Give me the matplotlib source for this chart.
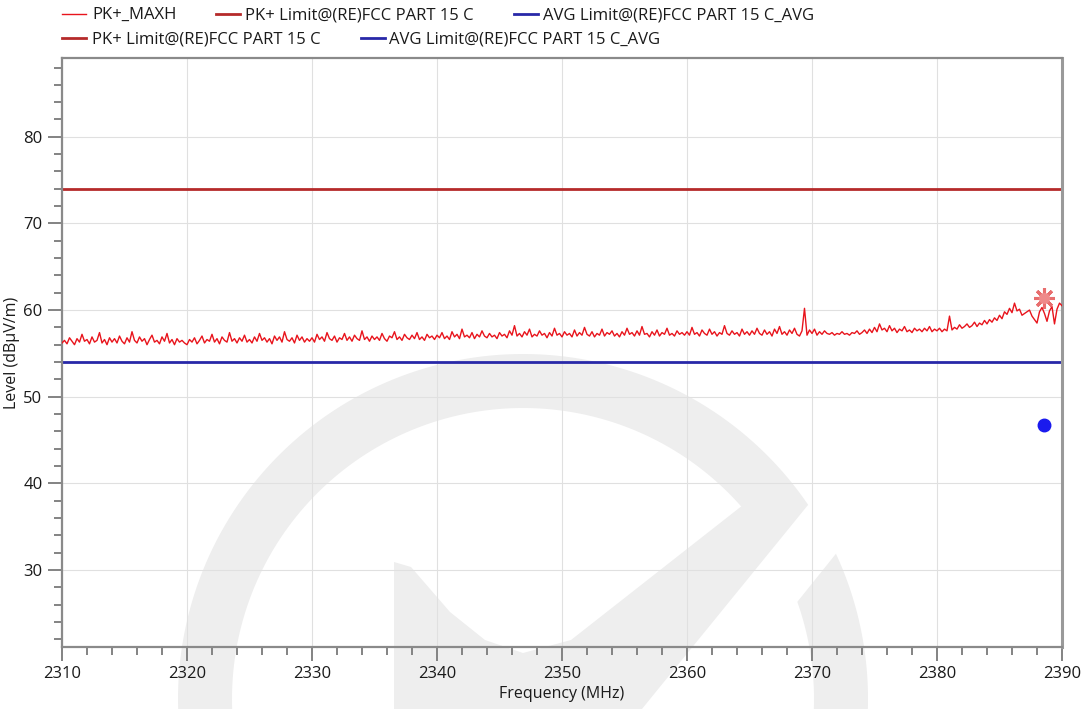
#!/usr/bin/env python3

import matplotlib
# render off-screen, no display in the sandbox
matplotlib.use('Agg')
import numpy as np
from matplotlib import pyplot as plt
from matplotlib.lines import Line2D
from matplotlib.patches import Polygon
from matplotlib.transforms import Affine2D
from matplotlib.ticker import MultipleLocator

# sweep settings
f_start = 2310.0
f_stop = 2390.0

# PK+_MAXH trace, one reading every 0.2 MHz
pk_maxh = [
    56.2, 56.5, 56.1, 56.8, 56.4, 56.0, 56.7, 56.3, 57.2, 56.4, 56.6, 56.1, 56.9, 56.3, 56.5, 57.4, 56.2, 56.6, 56.0, 56.8, 56.3, 56.7, 56.2, 57.0, 56.4,
    56.1, 56.8, 56.3, 57.5, 56.5, 56.2, 56.9, 56.4, 56.7, 56.0, 56.6, 57.1, 56.3, 56.5, 56.1, 56.9, 56.4, 57.3, 56.2, 56.6, 56.0, 56.7, 56.3, 56.5, 56.2,
    56.0, 56.6, 56.3, 56.8, 56.1, 56.5, 57.0, 56.2, 56.6, 56.4, 57.2, 56.3, 56.7, 56.1, 56.9, 56.5, 56.3, 57.4, 56.4, 56.7, 56.2, 56.8, 56.4, 57.1, 56.3,
    56.6, 56.2, 56.9, 56.4, 57.3, 56.5, 56.8, 56.3, 56.7, 56.1, 57.0, 56.5, 56.9, 56.3, 57.5, 56.6, 56.4, 56.8, 56.2, 57.1, 56.5, 56.9, 56.3, 56.7, 56.4,
    56.8, 56.3, 57.2, 56.6, 56.9, 56.4, 57.4, 56.7, 56.5, 57.0, 56.3, 56.8, 56.6, 57.3, 56.5, 56.9, 56.4, 57.1, 56.7, 56.5, 57.6, 56.6, 56.9, 56.4, 57.0,
    56.6, 56.9, 56.5, 57.3, 56.7, 56.4, 57.0, 56.8, 57.5, 56.6, 56.9, 56.5, 57.2, 56.8, 56.6, 57.1, 56.7, 57.4, 56.6, 56.9, 56.5, 57.2, 56.8, 57.0, 56.6,
    57.1, 56.8, 57.4, 56.7, 57.0, 56.6, 57.5, 56.9, 57.2, 56.7, 57.8, 56.9, 57.1, 56.8, 57.4, 56.7, 57.2, 56.9, 57.6, 57.0, 56.8, 57.3, 56.9, 57.1, 56.7,
    57.4, 57.0, 57.2, 56.8, 57.6, 57.1, 58.2, 57.0, 57.3, 56.9, 57.5, 57.1, 57.8, 56.9, 57.2, 57.0, 57.6, 57.1, 57.3, 56.8, 57.4, 57.0, 57.9, 57.1, 57.3,
    56.9, 57.5, 57.1, 57.3, 56.9, 57.7, 57.0, 57.4, 57.1, 58.0, 57.2, 57.0, 57.5, 56.9, 57.3, 57.1, 57.8, 57.0, 57.4, 57.2, 57.6, 57.0, 57.3, 56.9, 57.5,
    57.1, 57.9, 57.2, 57.4, 57.0, 57.6, 57.1, 58.1, 57.2, 57.3, 56.9, 57.5, 57.1, 57.7, 57.0, 57.4, 57.2, 57.9, 57.1, 57.3, 57.0, 57.6, 57.2, 57.4, 57.1,
    57.5, 57.1, 58.0, 57.2, 57.4, 57.0, 57.7, 57.3, 57.1, 57.8, 57.2, 57.5, 57.0, 57.4, 57.2, 58.2, 57.3, 57.1, 57.6, 57.2, 57.4, 57.0, 57.8, 57.2, 57.5,
    57.1, 57.6, 57.2, 57.9, 57.3, 57.1, 57.7, 57.2, 57.5, 57.0, 57.8, 57.3, 58.1, 57.2, 57.5, 57.1, 57.7, 57.3, 57.9, 57.2, 57.0, 57.6, 60.2, 57.1, 57.7,
    57.3, 57.8, 57.1, 57.5, 57.2, 57.6, 57.3, 57.2, 57.4, 57.1, 57.3, 57.2, 57.5, 57.2, 57.3, 57.1, 57.4, 57.3, 57.6, 57.2, 57.4, 57.7, 57.3, 57.8, 57.4,
    58.0, 57.5, 58.4, 57.7, 57.9, 57.5, 58.2, 57.6, 57.9, 57.4, 57.8, 57.6, 58.1, 57.5, 57.7, 57.4, 57.9, 57.6, 57.8, 57.5, 57.9, 57.6, 58.1, 57.5, 57.8,
    57.6, 57.9, 57.5, 57.8, 57.6, 59.3, 57.7, 58.0, 57.8, 58.3, 57.9, 58.1, 58.4, 58.0, 58.2, 58.6, 58.1, 58.5, 58.3, 58.8, 58.4, 58.9, 58.6, 59.1, 58.8,
    59.4, 59.0, 59.8, 59.5, 60.2, 59.7, 60.8, 59.9, 60.1, 59.4, 59.6, 59.8, 60.0, 59.3, 58.9, 58.5, 59.8, 60.3, 59.6, 58.7, 59.9, 60.4, 58.4, 60.1, 60.8,
    60.5,
]

# limit lines
pk_limit = 74.0
avg_limit = 54.0

# final measurement markers
peak_freq = [2388.55]
peak_level = [61.4]
avg_freq = [2388.55]
avg_level = [46.7]

legend_row1 = ["PK+_MAXH", "PK+ Limit@(RE)FCC PART 15 C", "AVG Limit@(RE)FCC PART 15 C_AVG"]
legend_row2 = ["PK+ Limit@(RE)FCC PART 15 C", "AVG Limit@(RE)FCC PART 15 C_AVG"]

FONT = "Open Sans"
W, H = 1088, 709


def pixel_transform(fig):
    """ image pixel coordinates (origin top left) -> display """
    return Affine2D().scale(1.0 / fig.dpi, -1.0 / fig.dpi).translate(0, H / fig.dpi) + fig.dpi_scale_trans


def arc(cx, cy, r, a0, a1, n=120):
    a = np.radians(np.linspace(a0, a1, n))
    return list(zip(cx + r * np.cos(a), cy - r * np.sin(a)))


def draw_watermark(fig):
    """ faint grey logo behind the plot """
    tr = pixel_transform(fig)
    grey = "#eeeeee"
    cx, cy, ro, ri = 523, 699, 345, 291
    # big ring, upper part running into the diagonal stroke
    ring = arc(cx, cy, ro, 34.2, 200) + arc(cx, cy, ri, 200, 41.4)
    stroke = [(743, 505), (808, 505), (633, 720), (394, 720), (394, 562), (411, 567),
              (450, 612), (485, 640), (523, 653), (571, 640)]
    lower = arc(cx, cy, ro, 24.9, -20) + arc(cx, cy, ri, -20, 19.5)
    for pts in (ring, stroke, lower):
        fig.add_artist(Polygon(pts, closed=True, facecolor=grey, edgecolor="none",
                               transform=tr, zorder=-5))


def draw_legend(fig, handles1, handles2):
    """ flowing legend at the top, drawn by hand to match the original layout """
    tr = pixel_transform(fig)
    entries = [
        (14, 62, 92, handles1[0], legend_row1[0]),
        (14, 216, 245, handles1[1], legend_row1[1]),
        (14, 514, 543, handles1[2], legend_row1[2]),
        (38, 62, 92, handles2[0], legend_row2[0]),
        (38, 361, 389, handles2[1], legend_row2[1]),
    ]
    for y, x0, xt, h, label in entries:
        fig.add_artist(Line2D([x0, x0 + 24], [y, y], color=h.get_color(),
                              linewidth=h.get_linewidth(), transform=tr))
        fig.text(xt, y + 1, label, transform=tr, fontsize=12, family=FONT,
                 color="#1a1a1a", va="center", ha="left")


def plot_spectrum():
    fig = plt.figure(figsize=(W / 100, H / 100), dpi=100, facecolor="white")
    draw_watermark(fig)
    ax = fig.add_axes([62 / W, (H - 647) / H, 1000 / W, 589 / H])
    ax.patch.set_alpha(0)

    freq = np.linspace(f_start, f_stop, len(pk_maxh))
    h_trace, = ax.plot(freq, pk_maxh, color="#e8141c", linewidth=1.0, zorder=3)
    h_pk, = ax.plot([f_start, f_stop], [pk_limit, pk_limit], color="#b52a2a",
                    linewidth=2.0, zorder=2)
    h_avg, = ax.plot([f_start, f_stop], [avg_limit, avg_limit], color="#2828a8",
                     linewidth=2.0, zorder=2)
    ax.plot(peak_freq, peak_level, marker=(8, 2, 0), markersize=15, markeredgewidth=2.2,
            color="#e86e6e", linestyle="none", zorder=5)
    ax.plot(peak_freq, peak_level, marker="o", markersize=7, color="#ef8a8a",
            linestyle="none", zorder=5)
    ax.plot(avg_freq, avg_level, marker="o", markersize=9, color="#1a1aee",
            linestyle="none", zorder=5)

    ax.set_xlim(f_start, f_stop)
    ax.set_ylim(21.1, 89.1)
    ax.xaxis.set_major_locator(MultipleLocator(10))
    ax.xaxis.set_minor_locator(MultipleLocator(2))
    ax.yaxis.set_major_locator(MultipleLocator(10))
    ax.yaxis.set_minor_locator(MultipleLocator(2))
    ax.grid(which="major", color="#e0e0e0", linewidth=0.8, zorder=0)
    ax.set_axisbelow(True)

    for side in ("left", "bottom", "top"):
        ax.spines[side].set_color("#8a8a8a")
        ax.spines[side].set_linewidth(1.6)
    ax.spines["right"].set_color("#9a9a9a")
    ax.spines["right"].set_linewidth(2.2)
    ax.tick_params(which="major", length=10, width=1.3, color="#7a7a7a",
                   labelsize=12, labelcolor="#1a1a1a", pad=4)
    ax.tick_params(which="minor", length=6, width=1.3, color="#7a7a7a")
    for lab in ax.get_xticklabels() + ax.get_yticklabels():
        lab.set_family(FONT)

    ax.set_xlabel("Frequency (MHz)", fontsize=11.5, family=FONT, color="#1a1a1a")
    ax.set_ylabel("Level (dBµV/m)", fontsize=11.5, family=FONT, color="#1a1a1a")
    ax.xaxis.set_label_coords(0.5, -(686 - 647) / 589)
    ax.yaxis.set_label_coords(-(62 - 20) / 1000, 0.5)

    draw_legend(fig, [h_trace, h_pk, h_avg], [h_pk, h_avg])
    fig.savefig("out.png", dpi=100, facecolor="white")


def main():
    plot_spectrum()


if __name__ == "__main__":
    main()
